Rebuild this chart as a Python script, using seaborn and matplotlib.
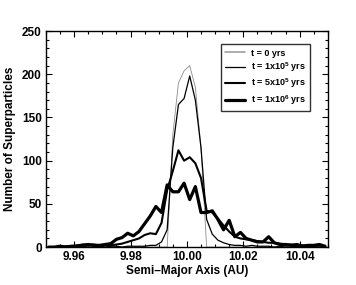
import numpy as np
import pandas as pd
import seaborn as sns
import matplotlib
matplotlib.use("Agg")
import matplotlib.pyplot as plt
from matplotlib.ticker import MultipleLocator

# bin centres (AU)
semi_major = [9.951, 9.953, 9.955, 9.957, 9.959, 9.961, 9.963, 9.965, 9.967, 9.969,
              9.971, 9.973, 9.975, 9.977, 9.979, 9.981, 9.983, 9.985, 9.987, 9.989,
              9.991, 9.993, 9.995, 9.997, 9.999, 10.001, 10.003, 10.005, 10.007, 10.009,
              10.011, 10.013, 10.015, 10.017, 10.019, 10.021, 10.023, 10.025, 10.027, 10.029,
              10.031, 10.033, 10.035, 10.037, 10.039, 10.041, 10.043, 10.045, 10.047, 10.049]

count_t0 = [0, 0, 0, 0, 0, 0, 0, 0, 0, 0,
            0, 0, 0, 0, 0, 0, 0, 0, 0, 0,
            0, 0, 130, 190, 204, 210, 185, 115, 0, 0,
            0, 0, 0, 0, 0, 0, 0, 0, 0, 0,
            0, 0, 0, 0, 0, 0, 0, 0, 0, 0]

count_1e5 = [0, 0, 0, 0, 1, 1, 1, 0, 0, 1,
             0, 1, 1, 0, 1, 1, 1, 1, 2, 2,
             6, 20, 115, 165, 172, 198, 170, 115, 32, 15,
             8, 5, 3, 2, 2, 1, 2, 1, 1, 1,
             0, 1, 0, 0, 1, 0, 0, 0, 0, 0]

count_5e5 = [0, 0, 0, 1, 1, 2, 3, 3, 3, 2,
             2, 2, 3, 4, 6, 8, 10, 14, 16, 15,
             28, 66, 88, 112, 100, 104, 97, 80, 42, 40,
             33, 25, 18, 12, 10, 9, 8, 7, 6, 5,
             5, 4, 3, 3, 2, 2, 2, 1, 2, 1]

count_1e6 = [0, 0, 1, 0, 1, 1, 2, 3, 2, 2,
             3, 4, 9, 11, 16, 13, 18, 27, 36, 47,
             40, 72, 64, 64, 74, 55, 70, 40, 40, 42,
             32, 20, 31, 12, 17, 10, 8, 6, 6, 12,
             5, 3, 3, 2, 3, 1, 2, 2, 3, 1]

labels = ["t = 0 yrs",
          "t = 1x10$^{5}$ yrs",
          "t = 5x10$^{5}$ yrs",
          "t = 1x10$^{6}$ yrs"]

sns.set_style("ticks")
plt.rcParams["font.family"] = ["Liberation Sans", "DejaVu Sans"]
plt.rcParams["font.weight"] = "bold"
plt.rcParams["mathtext.fontset"] = "custom"
plt.rcParams["mathtext.rm"] = "Liberation Sans:bold"
plt.rcParams["mathtext.bf"] = "Liberation Sans:bold"
plt.rcParams["mathtext.default"] = "bf"
for key in ["text.color", "axes.labelcolor", "xtick.color", "ytick.color"]:
    plt.rcParams[key] = "black"

fig = plt.figure(figsize=(3.56, 2.85), dpi=100)
ax = fig.add_axes([0.129, 0.133, 0.792, 0.758])

series = [(count_t0, "#8c8c8c", 0.6),
          (count_1e5, "black", 0.9),
          (count_5e5, "black", 1.5),
          (count_1e6, "black", 2.3)]
for (vals, col, lw), lab in zip(series, labels):
    df = pd.DataFrame({"a": semi_major, "n": vals})
    sns.lineplot(data=df, x="a", y="n", ax=ax, color=col, lw=lw, label=lab)

ax.set_xlim(9.95, 10.05)
ax.set_ylim(0, 250)
ax.xaxis.set_major_locator(MultipleLocator(0.02))
ax.xaxis.set_minor_locator(MultipleLocator(0.005))
ax.yaxis.set_major_locator(MultipleLocator(50))
ax.yaxis.set_minor_locator(MultipleLocator(10))
ax.set_xticks([9.96, 9.98, 10.00, 10.02, 10.04])
ax.set_xticklabels(["9.96", "9.98", "10.00", "10.02", "10.04"])
ax.tick_params(which="both", direction="in", top=True, right=True,
               labelsize=8.5, width=0.8, pad=3)
ax.tick_params(which="major", length=4.5)
ax.tick_params(which="minor", length=2.5)
for s in ax.spines.values():
    s.set_linewidth(1.0)
    s.set_color("black")

ax.set_xlabel("Semi\u2013Major Axis (AU)", fontsize=8.5, fontweight="bold", labelpad=1)
ax.set_ylabel("Number of Superparticles", fontsize=8.5, fontweight="bold", labelpad=4)

leg = ax.legend(loc="upper right", bbox_to_anchor=(0.936, 0.94), borderaxespad=0,
                fontsize=6.5, frameon=True, fancybox=False, handlelength=2.2,
                labelspacing=0.3, borderpad=0.5, handletextpad=0.6)
leg.get_frame().set_edgecolor("black")
leg.get_frame().set_linewidth(1.0)
leg.get_lines()[0].set_linewidth(1.2)
leg.get_lines()[0].set_color("#a0a0a0")

fig.savefig("out.png", dpi=100)
